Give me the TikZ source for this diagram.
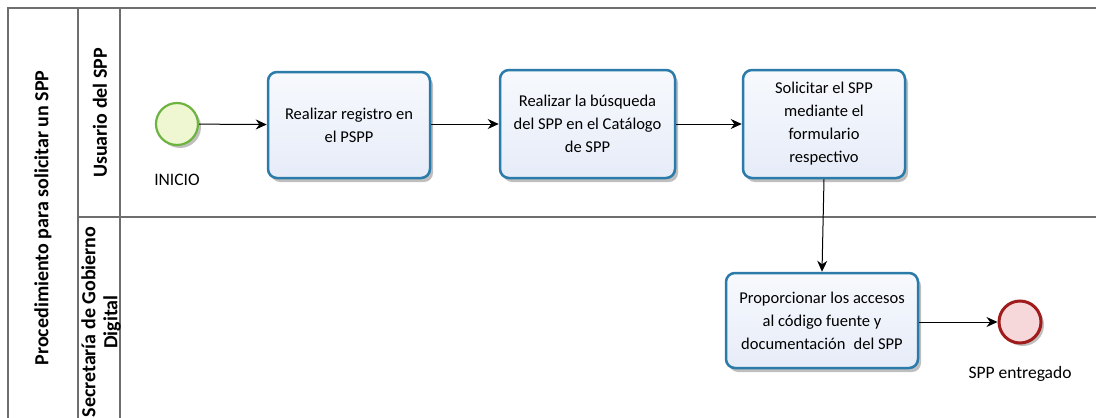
\documentclass[tikz,border=0pt]{standalone}
\usepackage{fontspec}
\setmainfont{Carlito}
\usetikzlibrary{arrows.meta,shadows,positioning}
\definecolor{poolline}{HTML}{6E6E6E}
\definecolor{taskline}{HTML}{2B7BAA}
\definecolor{tasktop}{HTML}{F7F9FD}
\definecolor{taskbot}{HTML}{E6ECF8}
\definecolor{startline}{HTML}{6DB33F}
\definecolor{startfill}{HTML}{EEF7D2}
\definecolor{endline}{HTML}{A01C1C}
\definecolor{endfill}{HTML}{F6D8DA}
\tikzset{
  x=1pt,y=-1pt,
  task/.style={draw=taskline,line width=2.5pt,top color=tasktop,bottom color=taskbot,rounded corners=9pt,
    align=center,font=\fontsize{16.5}{23}\selectfont,inner sep=0pt,
    drop shadow={shadow xshift=3pt,shadow yshift=-4pt,opacity=0.25,fill=black}},
  startev/.style={circle,draw=startline,line width=2.2pt,fill=startfill,minimum size=42pt,inner sep=0pt,
    drop shadow={shadow xshift=3pt,shadow yshift=-3pt,opacity=0.25,fill=black}},
  endev/.style={circle,draw=endline,line width=3pt,fill=endfill,minimum size=42pt,inner sep=0pt,
    drop shadow={shadow xshift=3pt,shadow yshift=-3pt,opacity=0.25,fill=black}},
  flow/.style={-{Stealth[length=11pt,width=10pt]},line width=1pt,black},
  evlabel/.style={font=\fontsize{17.5}{20}\selectfont},
  lanelabel/.style={rotate=90,font=\bfseries\fontsize{20}{22}\selectfont,align=center},
  poolborder/.style={draw=poolline,line width=1.3pt}
}
\begin{document}
\begin{tikzpicture}
\useasboundingbox (0,0) rectangle (1096,418);
\fill[white] (0,0) rectangle (1096,418);
% pool
\draw[poolborder] (1096,8) -- (8,8) -- (8,420);
\draw[poolborder] (78,8) -- (78,420);
\draw[poolborder] (120,8) -- (120,420);
\draw[poolborder] (78,217) -- (1096,217);
\node[lanelabel] (pool) at (43,218) {Procedimiento para solicitar un SPP};
\node[lanelabel] (lane1) at (100,113) {Usuario del SPP};
\node[lanelabel] (lane2) at (101,322) {Secretaría de Gobierno\\Digital};
% events and tasks
\node[startev] (start) at (177,124) {};
\node[evlabel] (startlbl) at (177,180) {INICIO};
\node[task,minimum width=162pt,minimum height=106pt] (t1) at (349,125) {Realizar registro en\\el PSPP};
\node[task,minimum width=175pt,minimum height=108pt] (t2) at (587.5,124) {Realizar la búsqueda\\del SPP en el Catálogo\\de SPP};
\node[task,minimum width=162pt,minimum height=108pt] (t3) at (824,124) {Solicitar el SPP\\mediante el\\formulario\\respectivo};
\node[task,minimum width=192pt,minimum height=95pt] (t4) at (822,320.5) {Proporcionar los accesos\\al código fuente y\\documentación\enspace del SPP};
\node[endev] (end) at (1020,322) {};
\node[evlabel] (endlbl) at (1020,374) {SPP entregado};
% flows
\draw[flow] (start) -- (t1);
\draw[flow] (t1.east |- 0,124) -- (t2.west |- 0,124);
\draw[flow] (t2) -- (t3);
\draw[flow] (t3.south) -- (t4.north);
\draw[flow] (t4.east |- end) -- (end);
\end{tikzpicture}
\end{document}
